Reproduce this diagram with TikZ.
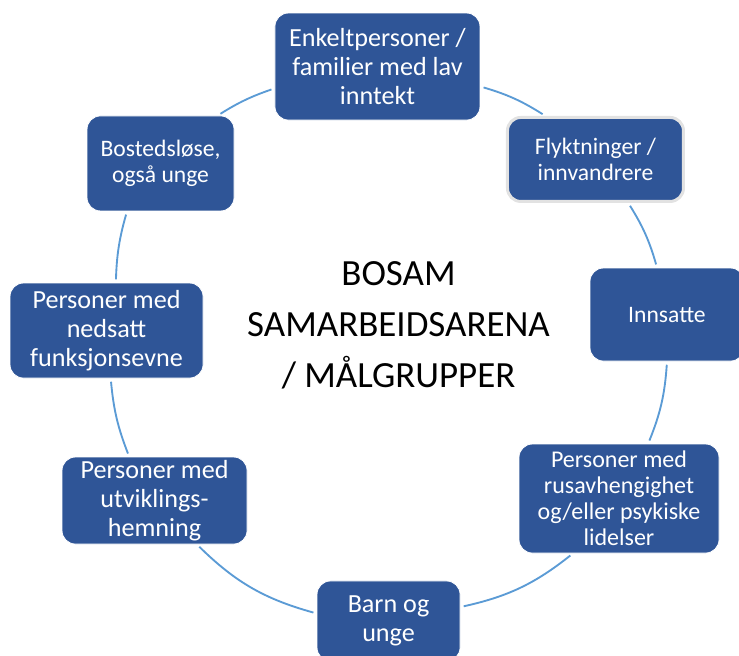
\documentclass[tikz,border=0pt]{standalone}
\usepackage{fontspec}
\setmainfont{Carlito}
\definecolor{boxblue}{HTML}{2F5597}
\definecolor{ringblue}{HTML}{5B9BD5}
\definecolor{rimgrey}{HTML}{E2E2E2}
\tikzset{
  gruppe/.style={draw=white,line width=0.6pt,fill=boxblue,text=white,rounded corners=10pt,align=center,inner sep=0pt},
  storfont/.style={font=\fontsize{19.6pt}{21.6pt}\selectfont},
  litenfont/.style={font=\fontsize{17.7pt}{20pt}\selectfont},
  ring/.style={draw=ringblue,line width=1.4pt,shorten <=2.5pt,shorten >=2.5pt},
}
\begin{document}
\begin{tikzpicture}[line join=bevel,]
%%
\useasboundingbox (0pt,0pt) rectangle (554.25pt,492pt);
\node (enkelt) at (283.1pt,442.1pt) [gruppe,storfont,minimum width=153.75pt,minimum height=80.25pt] {Enkeltpersoner /\\familier med lav\\inntekt};
  \node (flykt) at (446.6pt,372.4pt) [gruppe,litenfont,draw=rimgrey,line width=2.25pt,minimum width=132pt,minimum height=63pt] {Flyktninger /\\innvandrere};
  \node (innsatte) at (500.25pt,256.1pt) [gruppe,litenfont,minimum width=115.5pt,minimum height=69.75pt] {Innsatte};
  \node (rus) at (464.25pt,118.1pt) [gruppe,litenfont,font=\fontsize{18pt}{19.5pt}\selectfont,minimum width=150pt,minimum height=81.75pt] {Personer med\\rusavhengighet\\og/eller psykiske\\lidelser};
  \node (barn) at (291.4pt,26.25pt) [gruppe,storfont,minimum width=107.25pt,minimum height=60pt] {Barn og\\unge};
  \node (utvikling) at (115.9pt,116.6pt) [gruppe,storfont,minimum width=138.75pt,minimum height=65.25pt] {Personer med\\utviklings-\\hemning};
  \node (nedsatt) at (79.9pt,244.1pt) [gruppe,storfont,minimum width=144.75pt,minimum height=71.25pt] {Personer med\\nedsatt\\funksjonsevne};
  \node (bosted) at (120.4pt,369.4pt) [gruppe,litenfont,minimum width=110.25pt,minimum height=71.25pt] {Bostedsløse,\\også unge};
  \node (sentrum) at (298.9pt,248.25pt) [align=center,inner sep=0pt,font=\fontsize{27.7pt}{38.25pt}\selectfont] {BOSAM\\SAMARBEIDSARENA\\/ MÅLGRUPPER};
  \draw [ring] (enkelt.-11.3) to[bend left=8] (flykt.139.5);
  \draw [ring] (flykt.-53) to[bend left=8] (innsatte.102);
  \draw [ring] (innsatte.-90) to[bend left=9] (rus.62.8);
  \draw [ring] (rus.-130.8) to[bend left=13] (barn.11.1);
  \draw [ring] (barn.174.4) to[bend left=14.5] (utvikling.-46.3);
  \draw [ring] (utvikling.120.4) to[bend left=8] (nedsatt.-85.8);
  \draw [ring] (nedsatt.79.9) to[bend left=7] (bosted.-125.2);
  \draw [ring] (bosted.40.6) to[bend left=6.5] (enkelt.-168.2);
%
\end{tikzpicture}
\end{document}
